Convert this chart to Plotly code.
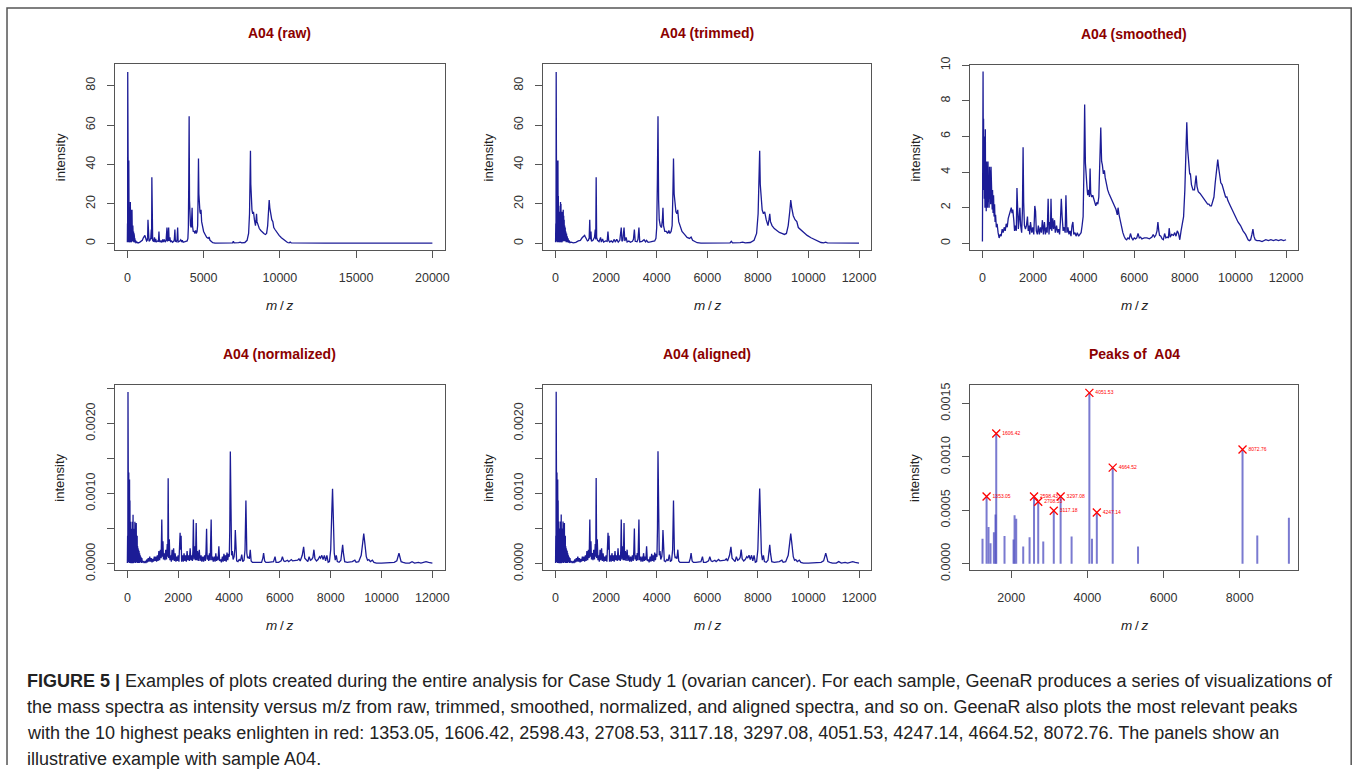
import plotly.graph_objects as go

W, H = 1357, 775
# the capture maps figure coords to picture coords as  Y = 0.976*y + 8 ,  X = 0.995*x
SY, OY, SX = 0.976, 8.0, 0.995


def px(x):
    return (x / SX) / W


def py(y):
    return 1 - ((y - OY) / SY) / H


# ---------------- data ----------------
raw_mz = [0, 10, 18, 25, 30, 38, 45, 52, 58, 66, 72, 80, 86, 95, 102, 110, 118, 126, 134, 142, 150, 160, 168, 178, 186,
          196, 204, 214, 222, 232, 240, 250, 258, 268, 276, 286, 294, 304, 312, 322, 330, 340, 350, 360, 370, 382, 394,
          406, 420, 434, 448, 462, 478, 495, 515, 540, 570, 620, 700, 800, 900, 980, 1050, 1100, 1150, 1180, 1220, 1260,
          1300, 1330, 1352, 1372, 1400, 1420, 1480, 1540, 1570, 1590, 1606, 1625, 1660, 1720, 1780, 1810, 1860, 1900,
          1980, 2040, 2072, 2100, 2140, 2200, 2260, 2320, 2360, 2420, 2480, 2540, 2598, 2625, 2660, 2708, 2740, 2790,
          2830, 2900, 2960, 3040, 3080, 3117, 3150, 3220, 3260, 3297, 3330, 3420, 3500, 3560, 3600, 3660, 3750, 3850,
          3920, 3970, 4000, 4025, 4051, 4075, 4100, 4140, 4190, 4225, 4247, 4270, 4320, 4380, 4430, 4480, 4520, 4570,
          4610, 4640, 4664, 4690, 4720, 4760, 4800, 4830, 4870, 4930, 5000, 5100, 5200, 5300, 5360, 5420, 5500, 5600,
          5750, 6000, 6500, 6900, 6950, 7000, 7300, 7400, 7500, 7700, 7850, 7950, 8010, 8050, 8072, 8095, 8130, 8170,
          8220, 8270, 8330, 8400, 8440, 8470, 8500, 8560, 8650, 8750, 8850, 8950, 9050, 9130, 9200, 9260, 9300, 9340,
          9400, 9470, 9540, 9600, 9680, 9800, 9950, 10100, 10250, 10400, 10500, 10600, 10680, 10750, 11000, 11500,
          12000, 13000, 14000, 15000, 15500, 16000, 17000, 18000, 19000, 20000]
raw_int = [0.5, 10, 2, 87, 4, 62, 1, 55, 3, 42, 0.5, 38, 2, 42, 1, 24, 0.5, 19, 1, 16, 0.5, 13, 1, 18, 0.5,
           21, 2, 20, 0.5, 14, 1, 10, 0.5, 16, 2, 17, 1, 17, 2, 14, 1, 12, 2, 9, 1, 8, 1,
           6, 0.5, 5, 0.5, 3.5, 0.5, 2.5, 0.3, 1.5, 0.3, 0.6, 0.2, 0.5, 1.2, 1.5, 2.8, 3.6, 4.0, 3.2, 2.5, 1.2,
           1.5, 3, 12, 2, 6, 1, 1.5, 3, 7, 2, 33.5, 3, 1.5, 0.8, 3, 0.6, 2.2, 0.6,
           1.2, 1, 6, 1.5, 0.6, 1.2, 0.5, 2, 0.6, 2, 0.6, 1.5, 8, 1, 1.5, 8, 1.2, 3,
           0.7, 1.2, 0.5, 1, 2, 7, 1, 0.8, 2, 8, 0.7, 1, 1.8, 0.7, 1.5, 0.5, 0.7, 0.9,
           1.2, 2.5, 8, 30, 64.5, 22, 12, 9, 8, 12, 18, 9, 6, 6, 5, 6.5, 5, 6,
           9, 25, 43, 25, 20, 16, 15, 17, 11, 8, 6, 4.5, 3, 2.5, 3.2, 1.5, 0.8, 0.3,
           0.1, 0.1, 0.1, 0.2, 1.0, 0.2, 0.3, 0.6, 0.2, 0.4, 1.5, 5, 15, 35, 47, 30, 20, 17,
           15, 16, 12, 9, 12, 15, 11, 9, 7.5, 6.5, 5.5, 5, 4.5, 5, 9, 16, 22, 18,
           14, 12, 11, 8, 7, 5.5, 4, 2.8, 1.8, 0.9, 0.4, 0.2, 0.6, 0.2, 0.15, 0.1,
           0.1, 0.05, 0.1, 0.2, 0.3, 0.1, 0.1, 0.05, 0.05, 0.05]

sm_mz = [0, 15, 25, 35, 45, 55, 65, 75, 90, 100, 115, 125, 140, 150, 165, 180, 195, 205, 220, 235, 250, 265, 280, 295,
         310, 325, 340, 355, 370, 385, 400, 420, 440, 460, 480, 500, 520, 550, 580, 620, 660, 700, 740, 780, 820, 860,
         900, 940, 980, 1020, 1060, 1100, 1140, 1170, 1200, 1240, 1270, 1300, 1340, 1365, 1390, 1420, 1450, 1480, 1510,
         1550, 1580, 1607, 1630, 1660, 1700, 1740, 1780, 1810, 1840, 1870, 1900, 1950, 1990, 2030, 2070, 2100, 2130,
         2170, 2210, 2250, 2290, 2330, 2370, 2410, 2450, 2490, 2530, 2560, 2597, 2630, 2660, 2690, 2710, 2740, 2780,
         2810, 2850, 2880, 2930, 2970, 3010, 3050, 3080, 3117, 3150, 3190, 3230, 3270, 3300, 3340, 3380, 3420, 3460,
         3500, 3540, 3575, 3610, 3660, 3700, 3750, 3800, 3850, 3900, 3940, 3980, 4010, 4040, 4070, 4100, 4130, 4160,
         4200, 4230, 4255, 4280, 4320, 4360, 4400, 4440, 4480, 4520, 4560, 4600, 4640, 4677, 4710, 4740, 4780, 4820,
         4850, 4900, 4950, 5000, 5100, 5200, 5280, 5330, 5360, 5400, 5450, 5500, 5550, 5600, 5650, 5700, 5750, 5800,
         5850, 5900, 5950, 6000, 6050, 6100, 6150, 6200, 6250, 6300, 6400, 6500, 6600, 6700, 6750, 6800, 6850, 6900,
         6935, 6970, 7000, 7050, 7100, 7150, 7200, 7250, 7300, 7350, 7380, 7420, 7480, 7550, 7600, 7650, 7700, 7750,
         7800, 7850, 7900, 7950, 8000, 8040, 8076, 8110, 8150, 8190, 8220, 8260, 8320, 8380, 8420, 8445, 8480, 8530,
         8600, 8700, 8800, 8900, 8950, 9000, 9050, 9100, 9150, 9200, 9250, 9300, 9340, 9380, 9420, 9470, 9520, 9560,
         9610, 9660, 9700, 9800, 9900, 10000, 10100, 10200, 10300, 10400, 10500, 10550, 10600, 10650, 10690, 10730,
         10780, 10850, 10950, 11050, 11150, 11200, 11300, 11400, 11500, 11600, 11700, 11800, 11900, 12000]
sm_int = [0.1, 3, 9.65, 5, 7, 3, 6, 2.5, 4.6, 2, 6.4, 2.5, 4.0, 1.8, 4.6, 2.2, 3.5, 2.0, 4.6, 2.3, 3.8, 2.0, 4.3, 2.5,
          4.1, 2.2, 4.3, 2.0, 3.5, 1.9, 3.0, 1.7, 2.7, 1.5, 2.2, 1.2, 1.6, 0.9, 1.1, 0.6, 0.3, 0.5, 0.4, 0.8, 0.6, 0.9,
          0.7, 1.1, 0.9, 1.4, 1.6, 1.9, 2.0, 1.7, 1.9, 1.3, 0.7, 1.0, 0.7, 3.1, 1.0, 0.8, 1.4, 2.0, 1.0,
          0.6, 1.8, 5.4, 2.3, 1.0, 0.8, 1.0, 1.5, 0.7, 1.0, 0.5, 1.2, 0.6, 0.9, 0.5, 2.1, 1.8, 0.7,
          0.5, 1.0, 0.5, 0.9, 0.6, 1.3, 0.5, 1.2, 0.5, 0.9, 0.6, 2.5, 0.5, 1.2, 0.8, 2.5, 0.7, 1.4,
          0.8, 1.3, 0.6, 1.0, 0.6, 0.8, 0.5, 1.2, 2.5, 1.5, 0.7, 0.9, 0.6, 2.7, 0.6, 0.9, 0.5, 0.7,
          0.4, 1.0, 1.2, 0.5, 0.6, 0.4, 0.6, 0.4, 0.5, 0.6, 1.0, 1.5, 4.0, 7.8, 4.5, 3.5, 3.2, 2.7,
          3.0, 2.6, 4.2, 2.8, 2.6, 2.7, 2.5, 2.2, 2.1, 2.3, 2.2, 2.6, 4.5, 6.5, 4.6, 4.4, 3.9, 4.1,
          3.7, 3.3, 3.0, 2.8, 2.5, 2.2, 1.9, 1.6, 2.0, 1.6, 1.2, 0.9, 0.6, 0.4, 0.25, 0.2, 0.3, 0.25,
          0.55, 0.3, 0.2, 0.3, 0.25, 0.3, 0.55, 0.3, 0.35, 0.25, 0.3, 0.3, 0.25, 0.35, 0.5, 0.35, 0.45, 0.7,
          1.2, 0.7, 0.45, 0.4, 0.25, 0.2, 0.55, 0.3, 0.35, 0.3, 0.85, 0.35, 0.5, 0.45, 0.6, 0.4, 0.7, 0.55,
          0.2, 0.7, 1.2, 1.5, 3.0, 5.5, 6.8, 5.3, 4.5, 3.9, 3.9, 3.3, 3.0, 3.0, 3.5, 3.8, 3.2, 2.9,
          2.8, 2.6, 2.4, 2.2, 2.2, 2.1, 2.1, 2.3, 2.6, 3.4, 4.3, 4.7, 4.2, 3.6, 3.4, 3.3, 3.0, 2.8,
          2.6, 2.6, 2.4, 2.1, 1.8, 1.5, 1.2, 1.0, 0.7, 0.5, 0.2, 0.15, 0.2, 0.5, 0.8, 0.4,
          0.2, 0.15, 0.15, 0.1, 0.15, 0.2, 0.15, 0.2, 0.15, 0.2, 0.15, 0.2, 0.15, 0.2]

norm_mz = [0, 10, 18, 25, 32, 40, 48, 56, 62, 70, 78, 86, 94, 102, 110, 118, 126, 134, 142, 152, 160, 170, 178, 188,
           196, 206, 214, 224, 232, 242, 250, 260, 268, 278, 286, 296, 304, 314, 322, 332, 340, 350, 358, 368, 376, 386,
           394, 404, 412, 422, 430, 440, 450, 460, 470, 482, 494, 506, 520, 535, 550, 570, 590, 620, 660, 700, 730, 760,
           790, 820, 850, 880, 910, 940, 970, 1000, 1030, 1060, 1090, 1120, 1150, 1180, 1210, 1240, 1270, 1300, 1330,
           1355, 1375, 1400, 1420, 1450, 1480, 1510, 1540, 1570, 1590, 1606, 1625, 1650, 1675, 1700, 1730, 1760, 1790,
           1820, 1850, 1880, 1910, 1940, 1970, 2000, 2030, 2050, 2075, 2095, 2115, 2135, 2170, 2200, 2230, 2260, 2290,
           2320, 2350, 2380, 2410, 2440, 2470, 2500, 2530, 2560, 2580, 2598, 2620, 2650, 2680, 2708, 2730, 2760, 2790,
           2830, 2860, 2900, 2930, 2970, 3000, 3040, 3070, 3095, 3117, 3140, 3170, 3200, 3230, 3260, 3297, 3320, 3350,
           3380, 3420, 3450, 3480, 3510, 3540, 3570, 3600, 3630, 3670, 3700, 3740, 3770, 3800, 3830, 3860, 3890, 3920,
           3950, 3980, 4010, 4030, 4051, 4075, 4100, 4130, 4160, 4200, 4225, 4247, 4270, 4300, 4350, 4400, 4450, 4500,
           4540, 4590, 4630, 4664, 4700, 4730, 4760, 4800, 4835, 4870, 4920, 5000, 5100, 5200, 5280, 5330, 5360, 5400,
           5450, 5550, 5650, 5750, 5810, 5850, 5950, 6050, 6100, 6150, 6200, 6300, 6350, 6450, 6500, 6600, 6700, 6750,
           6800, 6880, 6935, 6980, 7050, 7100, 7150, 7200, 7250, 7300, 7340, 7380, 7440, 7500, 7560, 7600, 7650, 7700,
           7750, 7800, 7850, 7900, 7950, 8000, 8040, 8072, 8100, 8140, 8180, 8220, 8260, 8330, 8400, 8440, 8470, 8500,
           8550, 8650, 8750, 8850, 8950, 9000, 9100, 9200, 9260, 9300, 9340, 9400, 9450, 9500, 9560, 9640, 9700, 9800,
           10000, 10200, 10400, 10500, 10600, 10650, 10685, 10720, 10770, 10850, 10950, 11100, 11200, 11300, 11450,
           11550, 11650, 11750, 11850, 11950, 12000]
norm_int = [0.00001, 0.0004, 0.00002, 0.00245, 0.0001, 0.0018, 0.00002, 0.0013, 0.0001, 0.00115, 0.00001, 0.0012,
            0.00003, 0.0009, 0.00001, 0.0006, 0.00004, 0.0005, 0.00001, 0.0005, 0.00003, 0.0004, 0.00001, 0.0006,
            0.00005, 0.0007, 0.00001, 0.0007, 0.00004, 0.0004, 0.00001, 0.0005, 0.00003, 0.0006, 0.00002, 0.0006,
            0.00005, 0.00055, 0.00001, 0.0004, 0.00004, 0.00058, 0.00002, 0.0003, 0.00005, 0.0004, 0.00001, 0.00025,
            0.00003, 0.00022, 0.00001, 0.0002, 0.00003, 0.00018, 0.00001, 0.00015, 0.00003, 0.00012, 0.00002, 0.0001,
            0.00001, 0.00008, 0.00002, 0.00004, 0.00001, 0.00004, 0.00001, 0.00006, 0.00002, 0.00008, 0.00003, 0.0001,
            0.00003, 0.00008, 0.00002, 0.00007, 0.00003, 0.0001, 0.00004, 0.0001, 0.00003, 0.00012, 0.00004, 0.00018,
            0.00005, 0.0002, 0.00008, 0.00063, 0.0001, 0.00032, 0.00006, 0.00015, 0.00005, 0.0002, 0.00006, 0.00028,
            0.0001, 0.00122, 0.00008, 0.00035, 0.00005, 0.00012, 0.00003, 0.0002, 0.00005, 0.00022, 0.00004, 0.00015,
            0.00003, 0.0001, 0.00004, 0.00012, 0.00003, 0.00015, 0.00044, 0.0002, 0.0004, 0.00003, 0.00012, 0.00003,
            0.00015, 0.00004, 0.00012, 0.00003, 0.00018, 0.00005, 0.00012, 0.00004, 0.00022, 0.00005, 0.00012, 0.00004,
            0.0002, 0.00063, 0.00006, 0.00025, 0.00005, 0.00058, 0.00005, 0.00018, 0.00004, 0.0002, 0.00004, 0.00012,
            0.00003, 0.0001, 0.00003, 0.00012, 0.00004, 0.00018, 0.0005, 0.00006, 0.00012, 0.00004, 0.00015, 0.00005,
            0.00063, 0.00005, 0.0001, 0.00003, 0.0001, 0.00003, 0.00015, 0.00004, 0.0001, 0.00005, 0.00025, 0.00004,
            0.00006, 0.00002, 0.0001, 0.00003, 0.00014, 0.00004, 0.00012, 0.00003, 0.00016, 0.00005, 0.00014, 0.0001,
            0.0005, 0.0016, 0.0003, 0.00012, 0.00018, 0.00006, 0.0001, 0.0002, 0.00048, 0.00012, 0.00004, 0.00003,
            0.00006, 0.00004, 0.00013, 0.00003, 0.00005, 0.0002, 0.0009, 0.00015, 0.00008, 0.0001, 0.00007, 0.0002,
            0.00004, 0.00002, 0.00002, 0.00002, 0.00003, 0.00002, 0.00008, 0.00015, 0.00004, 0.00002, 0.00002, 0.00003,
            0.00003, 0.0001, 0.00002, 0.00002, 0.00004, 0.0001, 0.00004, 0.00003, 0.00005, 0.00003, 0.00006, 0.00004,
            0.00004, 0.00005, 0.00007, 0.00004, 0.00012, 0.00024, 0.00008, 0.00004, 0.00003, 0.0001, 0.00005, 0.00006,
            0.00009, 0.0002, 0.00007, 0.00004, 0.00006, 0.0001, 0.00008, 0.00012, 0.00006, 0.00012, 0.00004, 0.00012,
            0.00002, 0.00003, 0.0002, 0.0007, 0.00107, 0.0007, 0.00015, 0.00005, 0.00012, 0.00003, 0.00002, 0.00005,
            0.00015, 0.00027, 0.00015, 0.00003, 0.00002, 0.00002, 0.00003, 0.00005, 0.00002, 0.00003, 0.00012, 0.0003,
            0.00043, 0.0003, 0.0001, 0.00005, 0.00006, 0.00003, 0.00005, 0.00002, 0.00001, 0.00001, 0.00001, 0.00001,
            0.00002, 0.00004, 0.0001, 0.00015, 0.0001, 0.00003, 0.00002, 0.00001, 0.00001, 0.00003, 0.00001, 0.00002,
            0.00001, 0.00002, 0.00003, 0.00002, 0.00002, 0.00001]

peak_mz = [1246, 1353.05, 1404, 1456, 1545, 1587, 1606.42, 1824, 2061, 2088, 2131, 2315, 2482, 2598.43, 2708.53,
           2841, 3117.18, 3297.08, 3585, 4051.53, 4120, 4247.14, 4664.52, 5329, 8072.76, 8460, 9290]
peak_int = [0.000234, 0.00063, 0.000343, 0.000193, 0.000296, 0.000462, 0.00122, 0.000259, 0.000228, 0.000453,
            0.000422, 0.000162, 0.000249, 0.00063, 0.00058, 0.000209, 0.000497, 0.00063, 0.000256, 0.0016, 0.000234,
            0.00048, 0.0009, 0.000162, 0.00107, 0.000265, 0.00043]
top_mz = [1353.05, 1606.42, 2598.43, 2708.53, 3117.18, 3297.08, 4051.53, 4247.14, 4664.52, 8072.76]
top_int = [0.00063, 0.00122, 0.00063, 0.00058, 0.000497, 0.00063, 0.0016, 0.00048, 0.0009, 0.00107]
top_labels = ["1353.05", "1606.42", "2598.43", "2708.53", "3117.18", "3297.08", "4051.53", "4247.14", "4664.52", "8072.76"]

titles = ["A04 (raw)", "A04 (trimmed)", "A04 (smoothed)", "A04 (normalized)", "A04 (aligned)", "Peaks of \u00a0A04"]

caption_lines = [
    "<b>FIGURE 5 |</b> Examples of plots created during the entire analysis for Case Study 1 (ovarian cancer). For each sample, GeenaR produces a series of visualizations of",
    "the mass spectra as intensity versus m/z from raw, trimmed, smoothed, normalized, and aligned spectra, and so on. GeenaR also plots the most relevant peaks",
    "with the 10 highest peaks enlighten in red: 1353.05, 1606.42, 2598.43, 2708.53, 3117.18, 3297.08, 4051.53, 4247.14, 4664.52, 8072.76. The panels show an",
    "illustrative example with sample A04.",
]

# ---------------- layout (picture pixel coordinates) ----------------
boxes = [(115, 444, 64, 250), (542.7, 870, 64, 250), (969, 1296.5, 64.5, 250),
         (115, 444, 384.5, 570), (542.7, 870, 384.3, 570), (969, 1296.7, 384.7, 570)]
xranges = [[-800, 20800], [-480, 12480], [-480, 12480], [-480, 12480], [-480, 12480], [925, 9540]]
yranges = [[-3.5, 91.0], [-3.5, 91.0], [-0.386, 10.04], [-0.0000957, 0.002551], [-0.0000957, 0.002551],
           [-0.0000628, 0.001674]]
xticks = [[0, 5000, 10000, 15000, 20000]] + [[0, 2000, 4000, 6000, 8000, 10000, 12000]] * 4 + [[2000, 4000, 6000, 8000]]
yt_big = [0, 20, 40, 60, 80]
yt_norm = [0, 0.0005, 0.001, 0.0015, 0.002, 0.0025]
ytext_norm = ["0.0000", "", "0.0010", "", "0.0020", ""]
yticks = [(yt_big, [str(v) for v in yt_big]), (yt_big, [str(v) for v in yt_big]),
          ([0, 2, 4, 6, 8, 10], ["0", "2", "4", "6", "8", "10"]),
          (yt_norm, ytext_norm), (yt_norm, ytext_norm),
          ([0, 0.0005, 0.001, 0.0015], ["0.0000", "0.0005", "0.0010", "0.0015"])]

LINE = "#1c1c96"
AX = "#555555"
TICKC = "#333333"
FONT = "Liberation Sans, Arial, sans-serif"

fig = go.Figure()

series = [(raw_mz, raw_int), (None, None), (sm_mz, sm_int), (norm_mz, norm_int), (norm_mz, norm_int)]

for i in range(6):
    n = "" if i == 0 else str(i + 1)
    xa, ya = "x" + n, "y" + n
    if i == 1:
        xs = [m for m in raw_mz if m <= 12000]
        ys = raw_int[:len(xs)]
    elif i < 5:
        xs, ys = series[i]
    if i < 5:
        fig.add_trace(go.Scatter(x=xs, y=ys, mode="lines", line=dict(color=LINE, width=1.3),
                                 xaxis=xa, yaxis=ya, showlegend=False, hoverinfo="skip"))
    else:
        sx, sy = [], []
        for m, v in zip(peak_mz, peak_int):
            sx += [m, m, None]
            sy += [0, v, None]
        fig.add_trace(go.Scatter(x=sx, y=sy, mode="lines", line=dict(color="rgba(70,70,190,0.72)", width=2),
                                 xaxis=xa, yaxis=ya, showlegend=False, hoverinfo="skip"))
        fig.add_trace(go.Scatter(x=top_mz, y=top_int, mode="markers+text", text=top_labels,
                                 textposition="middle right", textfont=dict(size=5, color="red", family=FONT),
                                 marker=dict(symbol="x-thin", size=8, line=dict(color="red", width=1.3)),
                                 xaxis=xa, yaxis=ya, showlegend=False, hoverinfo="skip"))

    l, r, t, b = boxes[i]
    common = dict(showline=True, mirror=True, linecolor=AX, linewidth=1, ticks="outside", ticklen=7,
                  tickcolor=AX, tickwidth=1, showgrid=False, zeroline=False,
                  tickfont=dict(size=12.5, color=TICKC, family=FONT))
    fig.layout["xaxis" + n] = dict(domain=[px(l), px(r)], range=xranges[i], anchor=ya,
                                   tickvals=xticks[i], ticktext=[str(v) for v in xticks[i]],
                                   ticklabelstandoff=9, **common)
    fig.layout["yaxis" + n] = dict(domain=[py(b), py(t)], range=yranges[i], anchor=xa,
                                   tickvals=yticks[i][0], ticktext=yticks[i][1], tickangle=-90,
                                   ticklabelstandoff=7, **common)

    cx = (l + r) / 2
    fig.add_annotation(x=px(cx), y=py(t - 31), xref="paper", yref="paper", text="<b>%s</b>" % titles[i],
                       showarrow=False, font=dict(size=14, color="#8b0000", family=FONT),
                       xanchor="center", yanchor="middle")
    fig.add_annotation(x=px(l - 55), y=py((t + b) / 2), xref="paper", yref="paper", text="intensity",
                       showarrow=False, textangle=-90, font=dict(size=13, color="#222", family=FONT),
                       xanchor="center", yanchor="middle")
    fig.add_annotation(x=px(cx), y=py(b + 55), xref="paper", yref="paper",
                       text="<i>m</i>\u2009/\u2009<i>z</i>",
                       showarrow=False, font=dict(size=13.5, color="#222", family=FONT),
                       xanchor="center", yanchor="middle")

# caption
cap_y = [680, 706, 732, 758]
for txt, yy in zip(caption_lines, cap_y):
    fig.add_annotation(x=px(25), y=py(yy), xref="paper", yref="paper", text=txt, showarrow=False,
                       xanchor="left", yanchor="middle", align="left",
                       font=dict(size=18, color="#222", family=FONT))

# outer frame (left, top, right sides; the bottom edge lies below the captured area)
xl, xr = px(7), min(px(1350), 0.9994)
fig.add_shape(type="path", xref="paper", yref="paper",
              path="M %f,0 L %f,%f L %f,%f L %f,0" % (xl, xl, py(8), xr, py(8), xr),
              line=dict(color="#555", width=1.5), layer="below")

fig.update_layout(width=W, height=H, margin=dict(l=0, r=0, t=0, b=0), paper_bgcolor="white",
                  plot_bgcolor="white", font=dict(family=FONT))

fig.write_html("out.html")
